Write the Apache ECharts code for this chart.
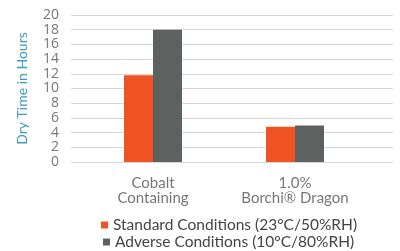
<!DOCTYPE html>
<html>
<head>
<meta charset="utf-8">
<script src="https://cdn.jsdelivr.net/npm/echarts@6/dist/echarts.min.js"></script>
<style>
  html, body { margin: 0; padding: 0; background: #fff; }
  #chart { width: 400px; height: 251px; }
</style>
</head>
<body>
<div id="chart"></div>
<script>
const categories = ['Cobalt\nContaining', '1.0%\nBorchi® Dragon']
const standardValues = [11.8, 4.8]
const adverseValues = [18, 4.95]
const seriesNames = ['Standard Conditions (23°C/50%RH)', 'Adverse Conditions (10°C/80%RH)']

const font = 'Lato'
const chart = echarts.init(document.getElementById('chart'))

// one legend per line so they can be placed like the original
function legendItem(name, left, top) {
  return {
    left: left,
    top: top,
    itemWidth: 7,
    itemHeight: 7,
    itemGap: 4,
    icon: 'rect',
    textStyle: { color: '#444', fontSize: 15.5, fontFamily: font },
    data: [name]
  }
}

const option = {
  animation: false,
  grid: [
    // wide grid only for the gridlines and y labels
    { left: 71, right: 7, top: 15, bottom: 89 },
    // narrower grid for the bars
    { left: 82, right: 34, top: 15, bottom: 89 }
  ],
  legend: [
    legendItem(seriesNames[0], 96, 212),
    legendItem(seriesNames[1], 98, 229)
  ],
  xAxis: [
    { type: 'category', gridIndex: 0, data: ['a'], show: false },
    {
      type: 'category',
      gridIndex: 1,
      data: categories,
      axisLine: { show: false },
      axisTick: { show: false },
      axisLabel: {
        color: '#777',
        fontSize: 15,
        fontFamily: font,
        lineHeight: 15,
        margin: 14
      }
    }
  ],
  yAxis: [
    {
      type: 'value',
      gridIndex: 0,
      min: 0,
      max: 20,
      interval: 2,
      name: 'Dry Time in Hours',
      nameLocation: 'middle',
      nameGap: 42,
      nameTextStyle: { color: '#3b9cc4', fontSize: 14, fontFamily: font },
      axisLine: { show: false },
      axisTick: { show: false },
      axisLabel: {
        color: '#777',
        fontSize: 14,
        fontFamily: 'Open Sans',
        margin: 12,
        interval: 0,
        showMinLabel: true,
        showMaxLabel: true
      },
      splitLine: { lineStyle: { color: '#d6d6d6', width: 1 } }
    },
    {
      type: 'value',
      gridIndex: 1,
      min: 0,
      max: 20,
      interval: 2,
      show: false,
      splitLine: { show: false }
    }
  ],
  series: [
    {
      name: seriesNames[0],
      type: 'bar',
      xAxisIndex: 1,
      yAxisIndex: 1,
      data: standardValues,
      barWidth: 29,
      barGap: 0,
      itemStyle: { color: '#f05323' }
    },
    {
      name: seriesNames[1],
      type: 'bar',
      xAxisIndex: 1,
      yAxisIndex: 1,
      data: adverseValues,
      barWidth: 29,
      barGap: 0,
      itemStyle: { color: '#5d6160' }
    }
  ]
}
chart.setOption(option)
</script>
</body>
</html>
